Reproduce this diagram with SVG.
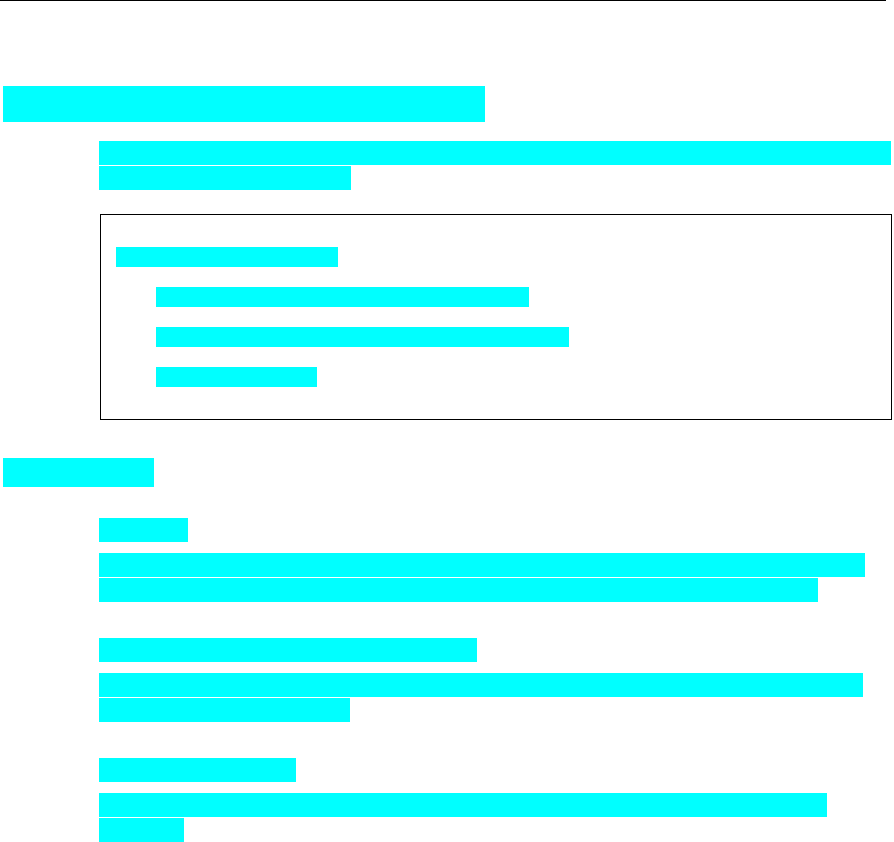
<svg xmlns="http://www.w3.org/2000/svg" width="894" height="842" viewBox="0 0 894 842">
<style>
.hl{fill:#00FFFF}
.frame{fill:none;stroke:#000;stroke-width:1}
</style>
<rect x="0" y="0" width="894" height="842" fill="#fff"/>
<line x1="0" y1="0.5" x2="886" y2="0.5" stroke="#000" stroke-width="1"/>
<g id="section1">
<rect class="hl" x="3" y="86" width="482" height="36"/>
<rect class="hl" x="99" y="141" width="792" height="24"/>
<rect class="hl" x="99" y="166" width="252" height="24"/>
</g>
<g id="box">
<rect class="frame" x="100.5" y="214.5" width="791" height="205"/>
<rect class="hl" x="116" y="247" width="222" height="20"/>
<rect class="hl" x="156" y="287" width="373" height="20"/>
<rect class="hl" x="156" y="327" width="413" height="20"/>
<rect class="hl" x="156" y="367" width="161" height="20"/>
</g>
<g id="section2">
<rect class="hl" x="3" y="458" width="151" height="29"/>
<rect class="hl" x="99" y="518" width="89" height="24"/>
<rect class="hl" x="99" y="553" width="766" height="24"/>
<rect class="hl" x="99" y="578" width="719" height="24"/>
<rect class="hl" x="99" y="638" width="378" height="24"/>
<rect class="hl" x="99" y="673" width="764" height="24"/>
<rect class="hl" x="99" y="698" width="251" height="24"/>
<rect class="hl" x="99" y="758" width="197" height="24"/>
<rect class="hl" x="99" y="793" width="728" height="24"/>
<rect class="hl" x="99" y="818" width="85" height="24"/>
</g>
</svg>
